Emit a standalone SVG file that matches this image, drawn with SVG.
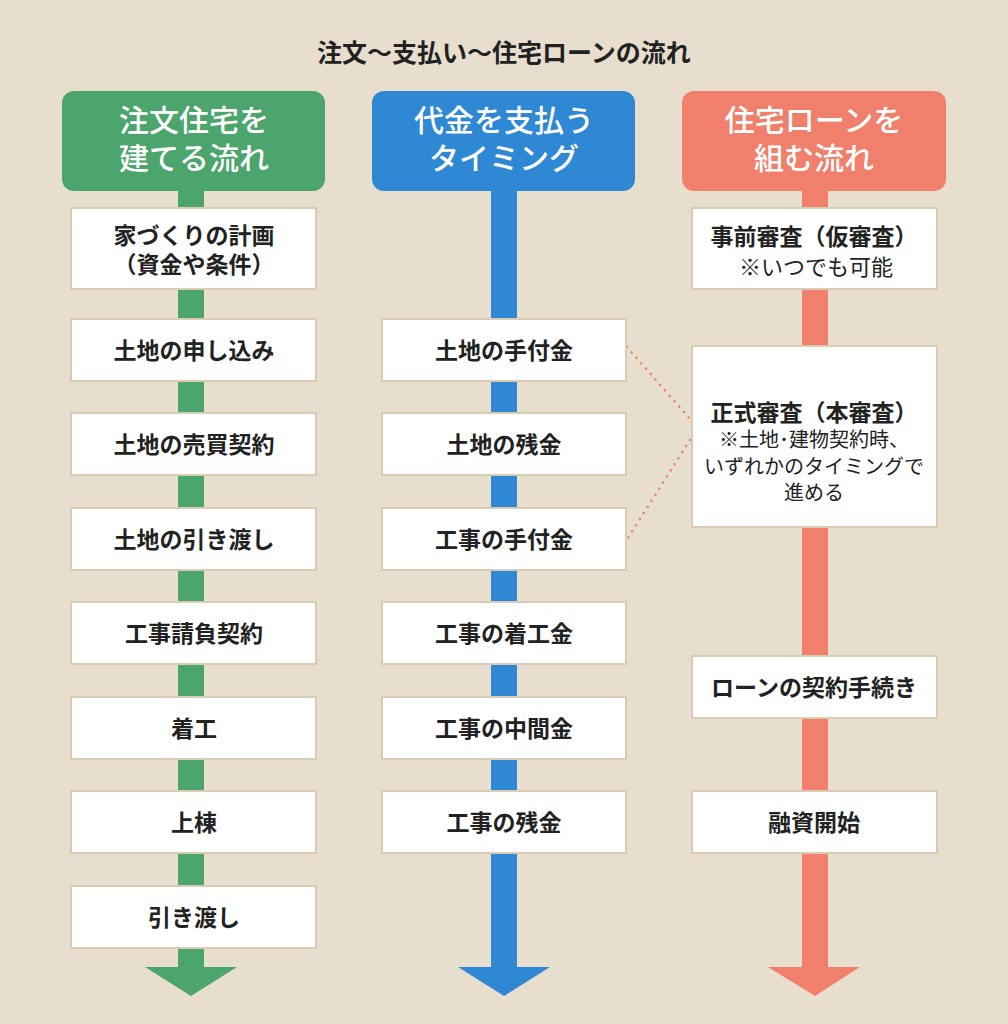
<svg xmlns="http://www.w3.org/2000/svg" width="1008" height="1024" viewBox="0 0 1008 1024">
<style>
text{font-family:"Noto Sans CJK JP","Noto Sans",sans-serif;text-anchor:middle;fill:#222}
.title{font-size:25px;font-weight:700}
.hd{font-size:30px;font-weight:500;fill:#fff}
.lb{font-size:23px;font-weight:700}
.sm{font-size:20px;font-weight:400}
.sm2{font-size:22px;font-weight:400}
.box{fill:#fff;stroke:#d9cbb4;stroke-width:2}
.g{fill:#4ba56c}.b{fill:#2e88d4}.r{fill:#f0806b}
.dot{fill:none;stroke:#f0806b;stroke-width:2.6;stroke-linecap:round;stroke-dasharray:0 7.2}
</style>
<rect width="1008" height="1024" fill="#e8dece"/>
<text class="title" x="504" y="62">注文〜支払い〜住宅ローンの流れ</text>
<g id="connectors">
<rect class="g" x="178" y="185" width="26" height="783"/>
<polygon class="g" points="145,967 237,967 191,996"/>
<rect class="b" x="491" y="185" width="26" height="783"/>
<polygon class="b" points="458,967 550,967 504,996"/>
<rect class="r" x="802" y="185" width="26" height="783"/>
<polygon class="r" points="768,967 860,967 815,996"/>
<path class="dot" d="M627,347 L690,419"/>
<path class="dot" d="M690,440 L628,538"/>
</g>
<g id="h1"><rect class="g" x="62" y="91" width="263" height="100" rx="12"/><text class="hd" x="194" y="131">注文住宅を</text><text class="hd" x="194" y="169">建てる流れ</text></g>
<g id="h2"><rect class="b" x="372" y="91" width="263" height="100" rx="12"/><text class="hd" x="504" y="131">代金を支払う</text><text class="hd" x="504" y="169">タイミング</text></g>
<g id="h3"><rect class="r" x="682" y="91" width="264" height="100" rx="12"/><text class="hd" x="814" y="131">住宅ローンを</text><text class="hd" x="814" y="169">組む流れ</text></g>

<g id="a1"><rect class="box" x="71" y="208" width="245" height="81"/><text class="lb" x="194" y="244">家づくりの計画</text><text class="lb" x="194" y="273">（資金や条件）</text></g>
<g id="a2"><rect class="box" x="71" y="319" width="245" height="62"/><text class="lb" x="194" y="359">土地の申し込み</text></g>
<g id="a3"><rect class="box" x="71" y="413" width="245" height="62"/><text class="lb" x="194" y="453">土地の売買契約</text></g>
<g id="a4"><rect class="box" x="71" y="508" width="245" height="62"/><text class="lb" x="194" y="548">土地の引き渡し</text></g>
<g id="a5"><rect class="box" x="71" y="602" width="245" height="62"/><text class="lb" x="194" y="642">工事請負契約</text></g>
<g id="a6"><rect class="box" x="71" y="697" width="245" height="62"/><text class="lb" x="194" y="737">着工</text></g>
<g id="a7"><rect class="box" x="71" y="791" width="245" height="62"/><text class="lb" x="194" y="831">上棟</text></g>
<g id="a8"><rect class="box" x="71" y="886" width="245" height="62"/><text class="lb" x="194" y="926">引き渡し</text></g>

<g id="b1"><rect class="box" x="382" y="319" width="244" height="62"/><text class="lb" x="504" y="359">土地の手付金</text></g>
<g id="b2"><rect class="box" x="382" y="413" width="244" height="62"/><text class="lb" x="504" y="453">土地の残金</text></g>
<g id="b3"><rect class="box" x="382" y="508" width="244" height="62"/><text class="lb" x="504" y="548">工事の手付金</text></g>
<g id="b4"><rect class="box" x="382" y="602" width="244" height="62"/><text class="lb" x="504" y="642">工事の着工金</text></g>
<g id="b5"><rect class="box" x="382" y="697" width="244" height="62"/><text class="lb" x="504" y="737">工事の中間金</text></g>
<g id="b6"><rect class="box" x="382" y="791" width="244" height="62"/><text class="lb" x="504" y="831">工事の残金</text></g>

<g id="c1"><rect class="box" x="692" y="208" width="245" height="81"/><text class="lb" x="814" y="245">事前審査（仮審査）</text><text class="sm2" x="816" y="275">※いつでも可能</text></g>
<g id="c2"><rect class="box" x="692" y="346" width="245" height="181"/><text class="lb" x="814" y="421">正式審査（本審査）</text><text class="sm" x="814" y="447">※土地･建物契約時、</text><text class="sm" x="814" y="474">いずれかのタイミングで</text><text class="sm" x="814" y="500">進める</text></g>
<g id="c3"><rect class="box" x="692" y="656" width="245" height="62"/><text class="lb" x="814" y="696">ローンの契約手続き</text></g>
<g id="c4"><rect class="box" x="692" y="791" width="245" height="62"/><text class="lb" x="814" y="831">融資開始</text></g>
</svg>
